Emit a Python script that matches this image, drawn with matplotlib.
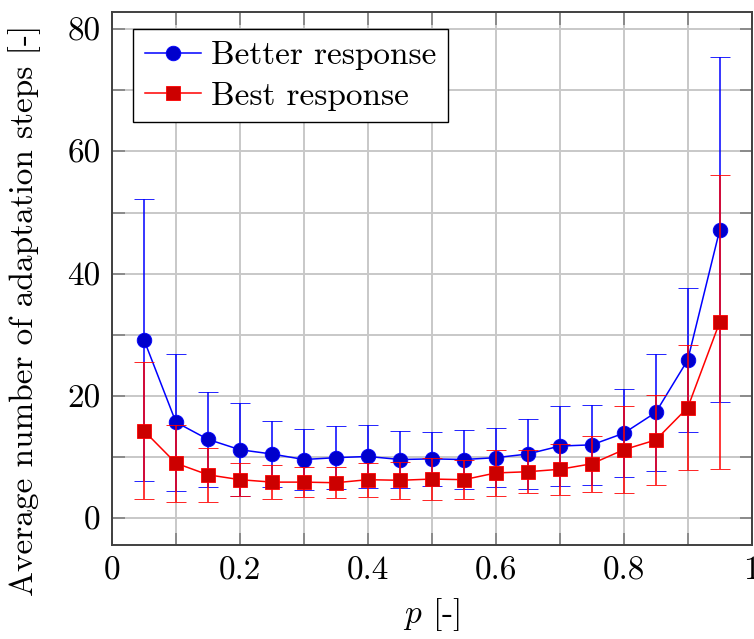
import matplotlib
matplotlib.use("Agg")
import matplotlib.pyplot as plt
from matplotlib.ticker import MultipleLocator

plt.rcParams['font.family'] = 'serif'
plt.rcParams['font.serif'] = ['cmr10', 'DejaVu Serif']
plt.rcParams['mathtext.fontset'] = 'cm'
plt.rcParams['axes.formatter.use_mathtext'] = True

# values
p = [0.05, 0.1, 0.15, 0.2, 0.25, 0.3, 0.35, 0.4, 0.45, 0.5,
     0.55, 0.6, 0.65, 0.7, 0.75, 0.8, 0.85, 0.9, 0.95]
better_mean = [29.2, 15.7, 12.9, 11.2, 10.5, 9.6, 9.9, 10.1, 9.6, 9.7,
               9.6, 9.9, 10.5, 11.8, 12.0, 13.9, 17.3, 25.9, 47.2]
better_std = [23.1, 11.2, 7.8, 7.6, 5.4, 5.0, 5.2, 5.2, 4.7, 4.4,
              4.8, 4.8, 5.7, 6.6, 6.5, 7.2, 9.6, 11.8, 28.2]
best_mean = [14.3, 9.0, 7.1, 6.3, 5.9, 5.9, 5.8, 6.3, 6.2, 6.4,
             6.3, 7.4, 7.6, 8.0, 8.9, 11.2, 12.8, 18.1, 32.1]
best_std = [11.2, 6.3, 4.4, 2.7, 2.8, 2.5, 2.5, 2.8, 3.0, 3.4,
            3.2, 3.7, 3.5, 4.2, 4.6, 7.1, 7.4, 10.2, 24.0]

xticks = [0, 0.2, 0.4, 0.6, 0.8, 1]
xticklabels = ["0", "0.2", "0.4", "0.6", "0.8", "1"]
yticks = [0, 20, 40, 60, 80]
yticklabels = ["0", "20", "40", "60", "80"]

fs = 24

fig = plt.figure(figsize=(7.54, 6.39), dpi=100)
ax = fig.add_axes([0.1485, 0.147, 0.8485, 0.834])

eb1 = ax.errorbar(p, better_mean, yerr=better_std, color='#0000ff', linewidth=1.1,
                  marker='o', markersize=10.5, markerfacecolor='#0000cc',
                  markeredgecolor='#0000ff', markeredgewidth=0.6,
                  ecolor='#0000ff', elinewidth=1.1, capsize=7, capthick=1.1, zorder=3)
eb2 = ax.errorbar(p, best_mean, yerr=best_std, color='#ff0000', linewidth=1.1,
                  marker='s', markersize=9.5, markerfacecolor='#cc0000',
                  markeredgecolor='#ff0000', markeredgewidth=0.6,
                  ecolor='#ff0000', elinewidth=1.1, capsize=7, capthick=1.1, zorder=4)

ax.set_xlim(0, 1)
ax.set_ylim(-4.4, 82.8)

ax.set_xticks(xticks)
ax.set_xticklabels(xticklabels)
ax.set_yticks(yticks)
ax.set_yticklabels(yticklabels)
ax.xaxis.set_minor_locator(MultipleLocator(0.1))
ax.yaxis.set_minor_locator(MultipleLocator(10))

ax.grid(True, which='both', color='#c8c8c8', linewidth=1.4)
ax.set_axisbelow(True)
ax.tick_params(which='both', direction='in', length=9, width=1.2, color='#808080',
               top=True, right=True, labelsize=fs, pad=8)
for s in ax.spines.values():
    s.set_color('#404040')
    s.set_linewidth(1.4)

ax.set_xlabel("$p$ [-]", fontsize=fs, labelpad=8)
ax.set_ylabel("Average number of adaptation steps [-]", fontsize=fs)
ax.yaxis.set_label_coords(-0.111, 0.44)

leg = ax.legend([eb1[0], eb2[0]], ["Better response", "Best response"],
                loc='upper left', bbox_to_anchor=(0.033, 0.968), borderaxespad=0,
                fontsize=fs, fancybox=False, framealpha=1, edgecolor='black',
                handlelength=1.7, handletextpad=0.3, borderpad=0.35, labelspacing=0.33)
leg.get_frame().set_linewidth(1.0)

fig.savefig("out.png", dpi=100)
